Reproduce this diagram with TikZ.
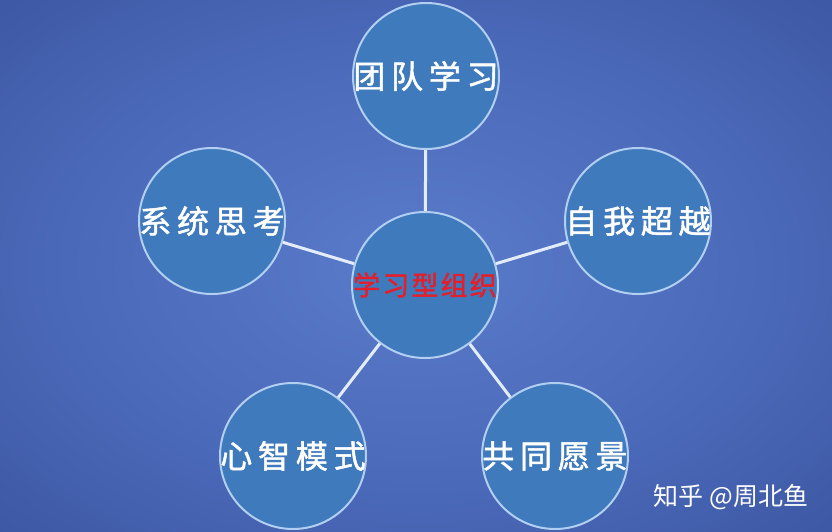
\documentclass[tikz,border=0pt]{standalone}
\usepackage{fontspec}
\newfontfamily\cjkwide[LetterSpace=18,FakeBold=1.5]{Noto Sans CJK SC}
\newfontfamily\cjkcore[LetterSpace=8,FakeBold=1.5]{Noto Sans CJK SC}
\newfontfamily\cjkplain{Noto Sans CJK SC}
\definecolor{bgin}{RGB}{90,124,202}
\definecolor{bgmid}{RGB}{74,104,184}
\definecolor{bgout}{RGB}{28,48,112}
\definecolor{discblue}{RGB}{63,122,188}
\definecolor{ringblue}{RGB}{178,206,240}
\definecolor{spokewhite}{RGB}{226,236,250}
\definecolor{corered}{RGB}{228,30,42}
\pgfdeclareradialshading{bgglow}{\pgfpoint{0bp}{0bp}}{color(0bp)=(bgin); color(22bp)=(bgmid); color(71bp)=(bgout)}
\begin{document}
\begin{tikzpicture}[x=1pt,y=-1pt,
    topic/.style ={circle, draw=ringblue, line width=2pt, fill=discblue, minimum size=146pt, inner sep=0pt},
    tag/.style ={text=white, font=\cjkwide\fontsize{32}{32}\selectfont},
    coretag/.style ={text=corered, font=\cjkcore\fontsize{27}{27}\selectfont},
    spoke/.style ={draw=spokewhite, line width=3pt},
    credit/.style ={text=white, font=\cjkplain\fontsize{25}{25}\selectfont}]
   \fill[shading=bgglow] (0,0) rectangle (832,531);
   \useasboundingbox (0,0) rectangle (832,531);

   \node[topic, label={[coretag]center:学习型组织}] (O) at (425,285) {};
   \node[topic, label={[tag]center:团队学习}] (T) at (426,76)  {};
   \node[topic, label={[tag]center:系统思考}] (S) at (212,221) {};
   \node[topic, label={[tag]center:自我超越}] (Z) at (638,221) {};
   \node[topic, label={[tag]center:心智模式}] (X) at (293,456) {};
   \node[topic, label={[tag]center:共同愿景}] (G) at (555,456) {};

   \draw[spoke] (O) to  (T);
   \draw[spoke] (O) to  (S);
   \draw[spoke] (O) to  (Z);
   \draw[spoke] (O) to  (X);
   \draw[spoke] (O) to  (G);

   \node[credit] (W) at (731,497) {知乎 @周北鱼};
 \end{tikzpicture}
\end{document}
